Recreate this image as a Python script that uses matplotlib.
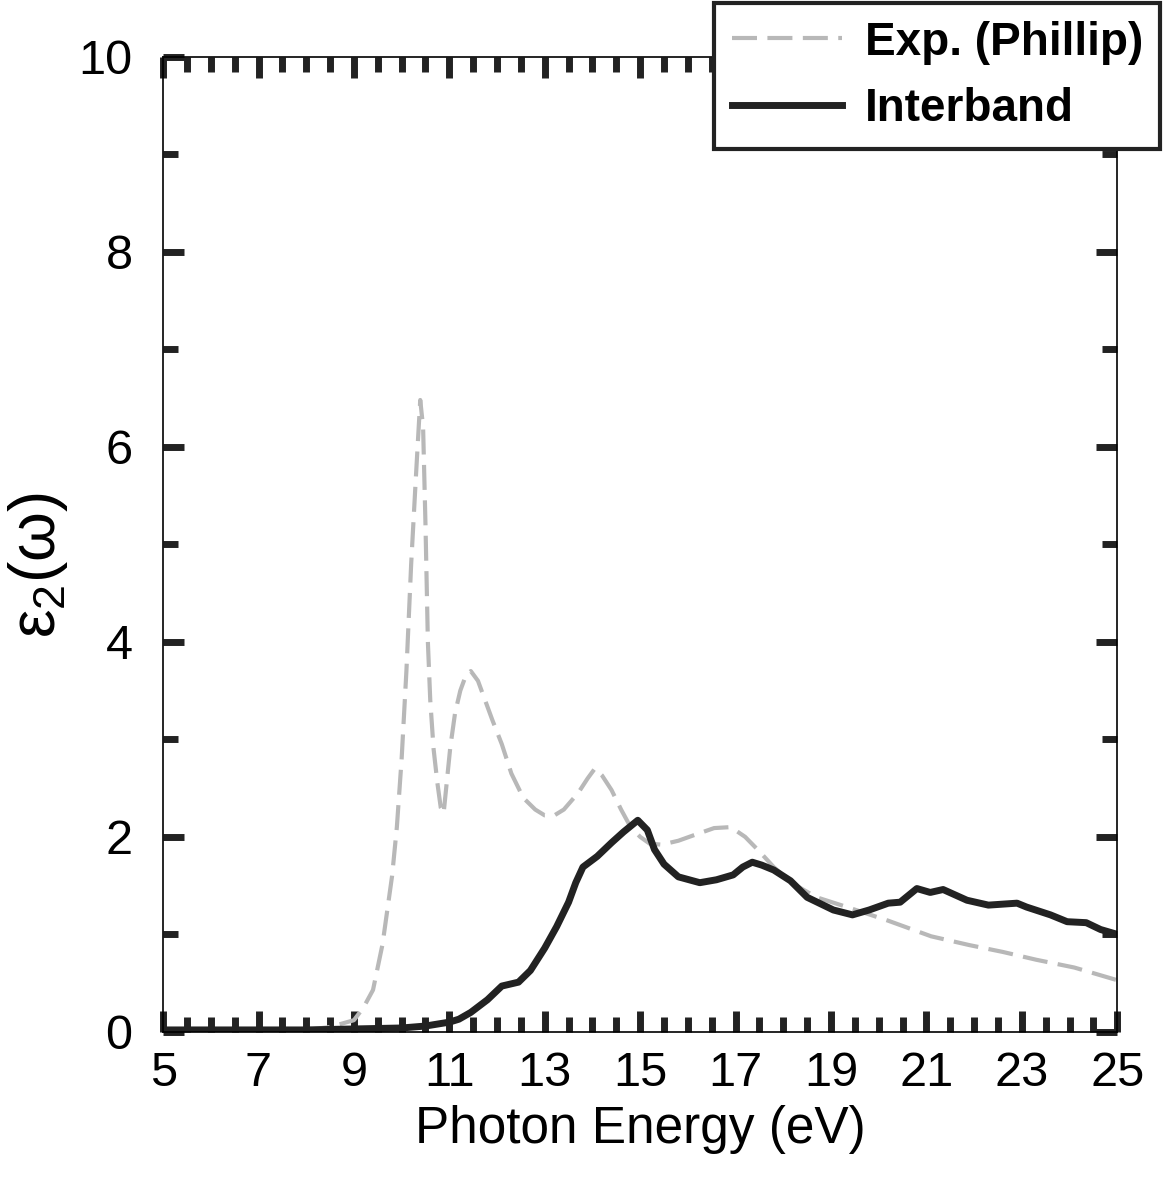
import matplotlib
matplotlib.use("Agg")
import matplotlib.pyplot as plt
from matplotlib.ticker import MultipleLocator
from matplotlib.font_manager import FontProperties

plt.rcParams['font.family'] = ['Liberation Sans', 'DejaVu Sans']
plt.rcParams['mathtext.fontset'] = 'custom'
plt.rcParams['mathtext.rm'] = 'Liberation Sans'
plt.rcParams['mathtext.it'] = 'Liberation Sans'

# experimental curve (Phillip)
exp_x = [5, 6, 7, 8, 8.5, 9.0, 9.2, 9.4, 9.6, 9.8, 9.9, 10.0, 10.1, 10.2, 10.3, 10.39,
         10.45, 10.5, 10.55, 10.6, 10.67, 10.75, 10.82, 10.88, 10.95, 11.02, 11.12, 11.23,
         11.35, 11.45, 11.6, 11.75, 11.9, 12.1, 12.3, 12.55, 12.8, 13.0, 13.2, 13.4, 13.7,
         13.9, 14.05, 14.2, 14.4, 14.6, 14.8, 15.0, 15.2, 15.45, 15.8, 16.2, 16.55, 16.9,
         17.2, 17.5, 17.8, 18.2, 18.7, 19.4, 20.2, 21.1, 21.9, 22.6, 23.3, 24.1, 25.0]
exp_y = [0.0, 0.0, 0.01, 0.02, 0.05, 0.12, 0.25, 0.43, 0.9, 1.6, 2.1, 2.8, 3.7, 4.8, 5.7, 6.48,
         6.2, 5.2, 4.0, 3.4, 2.9, 2.55, 2.3, 2.24, 2.58, 2.92, 3.27, 3.5,
         3.66, 3.7, 3.6, 3.4, 3.2, 2.95, 2.65, 2.4, 2.28, 2.22, 2.22, 2.28, 2.45,
         2.6, 2.7, 2.63, 2.48, 2.28, 2.1, 2.0, 1.93, 1.92, 1.96, 2.03, 2.09, 2.1,
         2.0, 1.85, 1.69, 1.52, 1.38, 1.27, 1.14, 0.98, 0.89, 0.82, 0.74, 0.66, 0.53]

# calculated interband contribution
ib_x = [5, 6, 7, 8, 9, 10, 10.5, 11.0, 11.2, 11.45, 11.8, 12.1, 12.45, 12.7, 13.0, 13.25,
        13.5, 13.65, 13.8, 14.1, 14.4, 14.65, 14.95, 15.15, 15.3, 15.5, 15.8, 16.25, 16.6,
        16.95, 17.15, 17.35, 17.55, 17.8, 18.15, 18.5, 19.05, 19.45, 19.8, 20.2, 20.45,
        20.8, 21.08, 21.35, 21.85, 22.3, 22.9, 23.1, 23.6, 23.95, 24.35, 24.65, 25.0]
ib_y = [0.02, 0.02, 0.02, 0.02, 0.03, 0.04, 0.06, 0.1, 0.13, 0.2, 0.33, 0.47, 0.51, 0.63,
        0.86, 1.08, 1.33, 1.53, 1.69, 1.8, 1.94, 2.05, 2.17, 2.07, 1.87, 1.72, 1.59, 1.53,
        1.56, 1.61, 1.69, 1.74, 1.71, 1.66, 1.55, 1.38, 1.25, 1.2, 1.25, 1.32, 1.33,
        1.47, 1.43, 1.46, 1.35, 1.3, 1.32, 1.28, 1.2, 1.13, 1.12, 1.05, 1.0]

x_ticks = [5, 7, 9, 11, 13, 15, 17, 19, 21, 23, 25]
y_ticks = [0, 2, 4, 6, 8, 10]

fig = plt.figure(figsize=(11.65, 11.82), dpi=100)
ax = fig.add_axes([0.140, 0.127, 0.819, 0.825])

ax.plot(exp_x, exp_y, color='#b8b8b8', lw=3, dashes=(6, 2.5), label='Exp. (Phillip)')
ax.plot(ib_x, ib_y, color='#222222', lw=5, label='Interband')

ax.set_xlim(5, 25)
ax.set_ylim(0, 10)
ax.set_xticks(x_ticks)
ax.set_yticks(y_ticks)
ax.xaxis.set_minor_locator(MultipleLocator(0.5))
ax.yaxis.set_minor_locator(MultipleLocator(1))

ax.tick_params(which='both', direction='in', top=True, right=True,
               color='#222222', labelsize=35)
ax.tick_params(which='major', length=15, width=5)
ax.tick_params(which='minor', length=11, width=5)
ax.tick_params(axis='x', pad=14)
ax.tick_params(axis='y', pad=22)
for s in ax.spines.values():
    s.set_linewidth(1.2)

ax.set_xlabel('Photon Energy (eV)', fontsize=37, labelpad=6)
ax.set_ylabel(r'$\varepsilon_2(\omega)$', fontsize=46)
ax.yaxis.set_label_coords(-0.098, 0.478)

leg = ax.legend(loc='upper right', bbox_to_anchor=(1.045, 1.055), borderaxespad=0,
                fancybox=False, framealpha=1, edgecolor='#222222',
                prop=FontProperties(family='Liberation Sans', weight='bold', size=33),
                handlelength=2.4, handletextpad=0.5, labelspacing=0.5, borderpad=0.38)
leg.get_frame().set_linewidth(3)

fig.savefig('out.png', dpi=100)
